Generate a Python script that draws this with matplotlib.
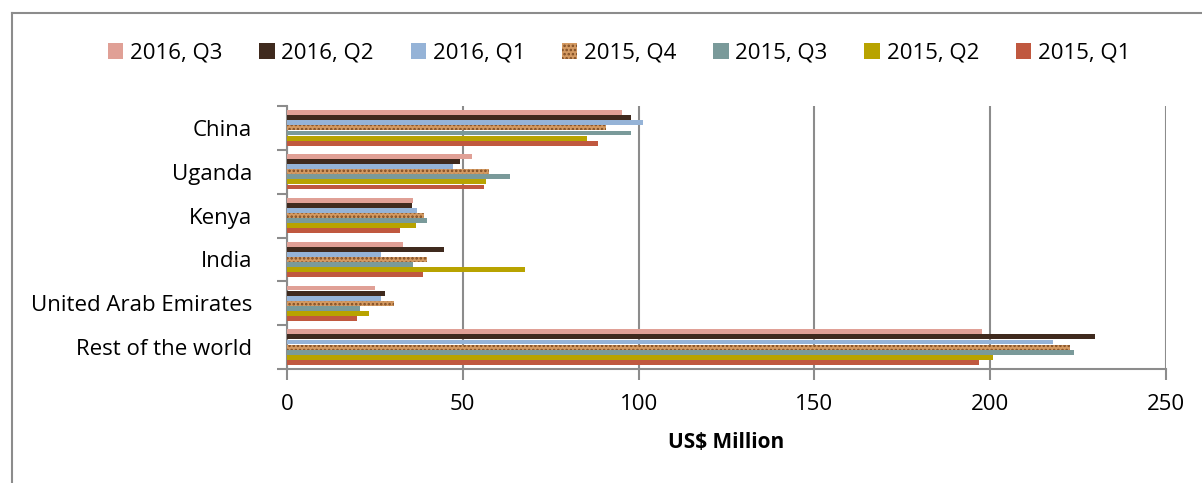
import numpy as np
import matplotlib
matplotlib.use("Agg")
import matplotlib.pyplot as plt
from matplotlib.lines import Line2D

plt.rcParams['font.family'] = ['Open Sans', 'DejaVu Sans']
plt.rcParams['hatch.linewidth'] = 1.2

countries = ["China", "Uganda", "Kenya", "India", "United Arab Emirates", "Rest of the world"]
series = ["2016, Q3", "2016, Q2", "2016, Q1", "2015, Q4", "2015, Q3", "2015, Q2", "2015, Q1"]

q3_2016 = [95.3, 52.6, 35.7, 33.0, 25.0, 197.7]
q2_2016 = [97.9, 49.3, 35.5, 44.7, 27.9, 229.7]
q1_2016 = [101.2, 47.2, 36.9, 26.7, 26.8, 218.0]
q4_2015 = [90.6, 57.5, 39.0, 39.8, 30.4, 222.6]
q3_2015 = [97.9, 63.3, 39.8, 35.7, 20.8, 223.7]
q2_2015 = [85.4, 56.6, 36.7, 67.8, 23.2, 200.8]
q1_2015 = [88.4, 56.1, 32.2, 38.7, 20.0, 196.9]

values = [q3_2016, q2_2016, q1_2016, q4_2015, q3_2015, q2_2015, q1_2015]
colors = ['#E0A096', '#3F2A1E', '#95B3D7', '#D49A62', '#7A9A9A', '#B8A300', '#C0583F']

fig = plt.figure(figsize=(12.02, 4.83), dpi=100)
ax = fig.add_axes([287/1202, 1-369/483, (1166-287)/1202, (369-106)/483])

y = np.arange(len(countries))
h = 0.116
for i, (vals, c) in enumerate(zip(values, colors)):
    if series[i] == "2015, Q4":
        ax.barh(y + (i-3)*h, vals, height=h*0.96, color=c, hatch='....',
                edgecolor='#7E4C24', linewidth=0, label=series[i], zorder=3)
    else:
        ax.barh(y + (i-3)*h, vals, height=h*0.96, color=c, label=series[i], zorder=3)

gray = '#8c8c8c'
ax.set_xlim(0, 250)
ax.set_ylim(5.5, -0.5)
ax.set_xticks([0, 50, 100, 150, 200, 250])
ax.set_yticks(y)
ax.set_yticklabels(countries)
ax.set_yticks(np.arange(-0.5, 6, 1), minor=True)
ax.tick_params(axis='y', which='major', length=0, pad=25, labelsize=16)
ax.tick_params(axis='y', which='minor', length=7, width=1.5, color=gray)
ax.tick_params(axis='x', length=8, width=1.5, color=gray, labelsize=16, pad=10)
ax.grid(axis='x', color=gray, linewidth=1.5, zorder=0)
for s in ['top', 'right']:
    ax.spines[s].set_visible(False)
for s in ['left', 'bottom']:
    ax.spines[s].set_color(gray)
    ax.spines[s].set_linewidth(1.5)
ax.set_xlabel("US$ Million", fontsize=15, fontweight='bold', labelpad=12)

fig.legend(loc='center', bbox_to_anchor=(0.515, 1-53/483), ncol=7, frameon=False,
           fontsize=16, handlelength=0.7, handleheight=0.7, handletextpad=0.3,
           columnspacing=1.65)

fig.add_artist(Line2D([12/1202, 12/1202], [-0.01, 1-13/483], color=gray, linewidth=1.5))
fig.add_artist(Line2D([12/1202, 1.01], [1-13/483, 1-13/483], color=gray, linewidth=1.5))

fig.savefig("out.png", dpi=100)
